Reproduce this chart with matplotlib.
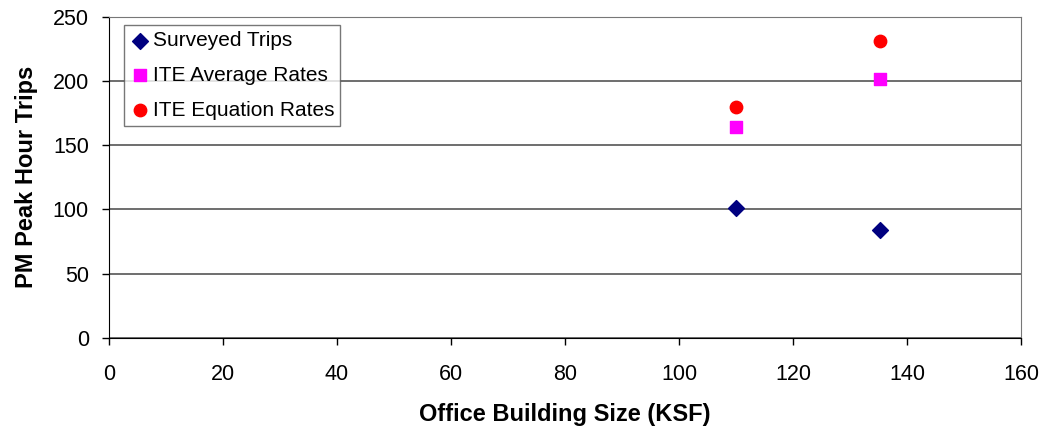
import matplotlib.pyplot as plt

plt.rcParams['font.family'] = ['Liberation Sans', 'DejaVu Sans']

# Office building size (KSF) and PM peak hour trips
size_ksf = [110, 135.3]
surveyed = [101, 84]
ite_average = [164, 202]
ite_equation = [180, 231]

fig = plt.figure(figsize=(10.49, 4.3), dpi=100)
ax = fig.add_axes([0.1039, 0.2147, 0.8694, 0.7458])

ax.scatter(size_ksf, surveyed, marker='D', s=65, color='#000080', label='Surveyed Trips', zorder=3)
ax.scatter(size_ksf, ite_average, marker='s', s=75, color='#FF00FF', label='ITE Average Rates', zorder=3)
ax.scatter(size_ksf, ite_equation, marker='o', s=80, color='#FF0000', label='ITE Equation Rates', zorder=3)

ax.set_xlim(0, 160)
ax.set_ylim(0, 250)
ax.set_xticks(range(0, 161, 20))
ax.set_yticks(range(0, 251, 50))
ax.yaxis.grid(True, color='#555555', linewidth=1.2)
ax.set_axisbelow(True)
ax.tick_params(axis='both', direction='out', length=5, width=1, labelsize=15.5)
ax.tick_params(axis='x', pad=14)
ax.tick_params(axis='y', pad=9.5)

for side in ['top', 'right']:
    ax.spines[side].set_color('#777777')
for side in ['left', 'bottom']:
    ax.spines[side].set_color('black')

ax.set_xlabel('Office Building Size (KSF)', fontsize=17, fontweight='bold', labelpad=13)
ax.set_ylabel('PM Peak Hour Trips', fontsize=17, fontweight='bold', labelpad=10.5)

leg = ax.legend(loc='upper left', bbox_to_anchor=(0.016, 0.975), fontsize=15, frameon=True,
                fancybox=False, edgecolor='#555555', handletextpad=0.1, handlelength=1.0,
                borderpad=0.3, labelspacing=0.75, borderaxespad=0)
leg.get_frame().set_linewidth(1.0)

fig.savefig('out.png', dpi=100)
